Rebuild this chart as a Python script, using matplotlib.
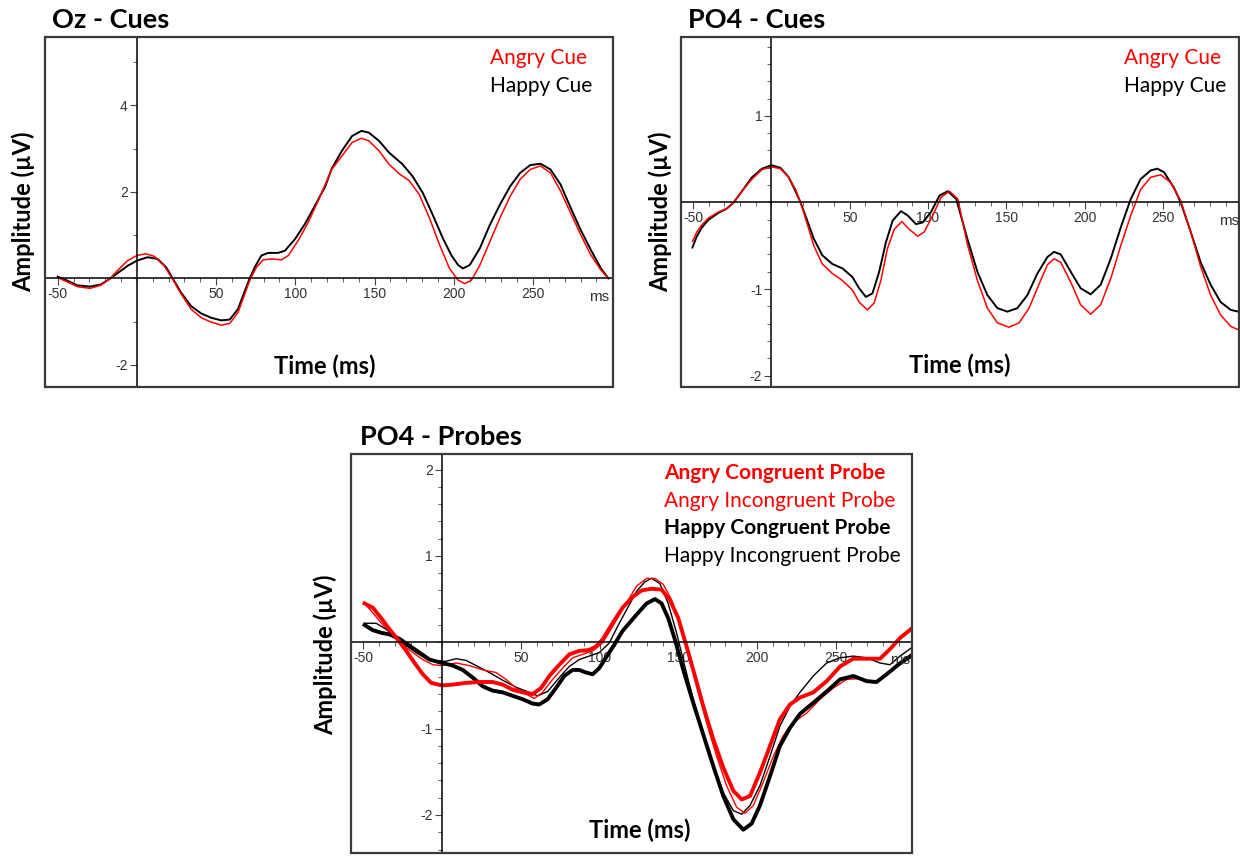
import numpy as np
import matplotlib
matplotlib.use('Agg')
import matplotlib.pyplot as plt
from matplotlib.patches import Rectangle
from matplotlib.ticker import MultipleLocator

plt.rcParams['axes.unicode_minus'] = False

# ---- Oz - Cues (time in ms, amplitude in uV) ----
oz_t_happy = [-50, -44, -37.6, -29.6, -22.8, -17.5, -12.3, -5.9, 0, 6.8, 13.1, 18.4, 22.6, 27.9,
              34.2, 40.6, 46.9, 53.3, 58.6, 63.8, 67.7, 71.2, 74.4, 78.6, 82.9, 89.2, 93.4, 99.8,
              106.1, 112.5, 118.8, 123, 129.4, 135.8, 141.7, 146.4, 152.8, 159.1, 167.6, 174,
              180.4, 186.7, 193.1, 198.4, 202.7, 205.8, 210.1, 216.5, 222.8, 229.2, 235.6, 241.9,
              248.3, 254.7, 261, 267.4, 273.8, 280.1, 286.5, 292.9, 297.6]
oz_happy = [0.04, -0.05, -0.16, -0.19, -0.14, -0.02, 0.12, 0.29, 0.41, 0.49, 0.45, 0.26, 0.0,
            -0.33, -0.64, -0.81, -0.91, -0.97, -0.95, -0.71, -0.33, 0.0, 0.26, 0.53, 0.59, 0.59,
            0.64, 0.91, 1.26, 1.69, 2.12, 2.54, 2.95, 3.29, 3.41, 3.37, 3.18, 2.91, 2.64, 2.36,
            1.98, 1.47, 0.93, 0.54, 0.31, 0.23, 0.31, 0.70, 1.24, 1.71, 2.13, 2.44, 2.62, 2.65,
            2.52, 2.17, 1.63, 1.12, 0.66, 0.23, 0.0]
oz_t_angry = [-50, -44, -37.6, -29.6, -22.8, -17.5, -12.3, -5.9, 0, 5.7, 11, 17.3, 22.6, 27.9,
              34.2, 40.6, 46.9, 53.3, 58.6, 63.8, 67.7, 71.7, 75.5, 79.7, 85, 91.3, 95.6, 101.9,
              108.2, 114.6, 123, 129.4, 135.8, 141.7, 146.4, 152.8, 159.1, 165.5, 171.9, 178.2,
              184.6, 191, 197.3, 202.7, 206.9, 211.2, 216.5, 222.8, 229.2, 235.6, 241.9, 248.3,
              254.7, 261, 267.4, 273.8, 280.1, 286.5, 292.9, 297.6]
oz_angry = [0.02, -0.08, -0.19, -0.23, -0.16, -0.02, 0.18, 0.41, 0.53, 0.57, 0.51, 0.29, -0.02,
            -0.36, -0.71, -0.91, -1.01, -1.08, -1.04, -0.79, -0.40, 0.0, 0.26, 0.43, 0.45, 0.43,
            0.53, 0.88, 1.30, 1.81, 2.52, 2.83, 3.14, 3.24, 3.18, 2.95, 2.64, 2.42, 2.26, 1.94,
            1.40, 0.78, 0.23, -0.04, -0.12, -0.04, 0.31, 0.85, 1.40, 1.90, 2.29, 2.52, 2.60,
            2.44, 2.02, 1.51, 1.01, 0.54, 0.19, 0.0]

# ---- PO4 - Cues ----
po_t_happy = [-50.4, -47.6, -44.4, -40.2, -33.8, -28.4, -24.1, -18.8, -12.4, -6, 0, 5.8, 11.1,
              15.4, 18.6, 22.9, 27.1, 32.5, 38.9, 45.3, 51.7, 56, 60.3, 64.5, 68.8, 73.1, 77.4,
              82.7, 87, 92.3, 96.6, 101.9, 107.3, 112.6, 118, 125.1, 131.5, 137.9, 144.3, 150.6,
              157, 163.4, 169.8, 176.2, 180.4, 184.7, 191.1, 197.4, 203.8, 210.2, 216.6, 223,
              229.4, 235.7, 242.1, 246.4, 250.6, 257, 261.3, 267.7, 274, 280.4, 286.8, 293.2, 298.1]
po_happy = [-0.52, -0.39, -0.29, -0.20, -0.12, -0.07, 0.0, 0.13, 0.29, 0.39, 0.43, 0.40, 0.29,
            0.13, 0.0, -0.21, -0.42, -0.61, -0.71, -0.76, -0.86, -0.99, -1.09, -1.05, -0.80,
            -0.46, -0.21, -0.10, -0.15, -0.25, -0.23, -0.11, 0.08, 0.13, 0.04, -0.42, -0.80,
            -1.07, -1.22, -1.26, -1.22, -1.07, -0.82, -0.63, -0.57, -0.60, -0.80, -0.99, -1.06,
            -0.95, -0.65, -0.29, 0.04, 0.27, 0.37, 0.39, 0.35, 0.17, 0.0, -0.34, -0.69, -0.95,
            -1.15, -1.24, -1.26]
po_t_angry = [-50.4, -47.6, -44.4, -40.2, -33.8, -28.4, -24.1, -18.8, -12.4, -6, 0.4, 5.8, 11.1,
              15.4, 18.6, 22.9, 27.1, 32.5, 38.9, 45.3, 51.7, 56, 61.3, 65.6, 69.9, 74.1, 78.4,
              83.3, 88, 93.4, 97.6, 103, 108.3, 113.7, 119, 125.1, 131.5, 137.9, 144.3, 151.7,
              158.1, 164.5, 170.9, 176.2, 180.4, 184.7, 191.1, 197.4, 203.8, 210.2, 216.6, 223,
              229.4, 235.7, 242.1, 248.5, 254.9, 261.3, 267.7, 274, 280.4, 286.8, 293.2, 298.1]
po_angry = [-0.45, -0.34, -0.26, -0.18, -0.11, -0.07, 0.0, 0.13, 0.27, 0.38, 0.41, 0.39, 0.29,
            0.15, 0.0, -0.25, -0.50, -0.71, -0.82, -0.90, -1.01, -1.15, -1.24, -1.16, -0.90,
            -0.53, -0.31, -0.22, -0.31, -0.39, -0.34, -0.15, 0.06, 0.13, 0.04, -0.48, -0.90,
            -1.22, -1.39, -1.44, -1.39, -1.22, -0.94, -0.72, -0.65, -0.69, -0.92, -1.18, -1.29,
            -1.18, -0.88, -0.50, -0.15, 0.15, 0.29, 0.32, 0.23, 0.02, -0.34, -0.74, -1.07,
            -1.30, -1.43, -1.47]

# ---- PO4 - Probes ----
ac_t = [-49.3, -44, -38.7, -33.4, -28.1, -22.8, -17.5, -12.3, -7, 0, 6.8, 15.2, 23.7, 32.1,
        38.5, 44.8, 51.2, 57.5, 62.8, 68.1, 74.4, 80.8, 87.1, 93.4, 97.7, 101.9, 108.2, 114.6,
        121.4, 126.7, 133.1, 139.4, 144.7, 150, 155.3, 160.6, 165.9, 172.2, 178.6, 185, 190.3,
        195.6, 201.9, 208.3, 214.6, 221, 227.3, 235.8, 244.3, 252.8, 261.2, 269.7, 278.2,
        284.5, 290.9, 297.7]
angry_congruent = [0.45, 0.40, 0.28, 0.15, 0.03, -0.10, -0.24, -0.37, -0.47, -0.50, -0.49,
                   -0.47, -0.46, -0.46, -0.49, -0.55, -0.58, -0.60, -0.53, -0.39, -0.26, -0.14,
                   -0.10, -0.09, -0.05, 0.03, 0.22, 0.40, 0.53, 0.60, 0.62, 0.61, 0.49, 0.28,
                   -0.05, -0.39, -0.74, -1.12, -1.45, -1.72, -1.82, -1.78, -1.51, -1.20, -0.89,
                   -0.72, -0.64, -0.58, -0.45, -0.28, -0.19, -0.19, -0.19, -0.08, 0.05, 0.15]
ai_t = [-49.3, -44, -37.6, -31.3, -24.9, -18.6, -12.3, -5.9, 0, 8.9, 17.3, 25.8, 34.2, 40.6,
        46.9, 53.3, 58.6, 63.8, 70.2, 76.5, 82.9, 89.2, 95.6, 101.9, 108.2, 114.6, 123.5, 129.9,
        135.2, 140.5, 145.8, 151.1, 156.4, 161.7, 168, 174.4, 180.7, 187.1, 192.4, 197.7, 204,
        210.4, 216.7, 223.1, 231.6, 240, 248.5, 257, 265.5, 273.9, 282.4, 289.8, 297.7]
angry_incongruent = [0.45, 0.34, 0.20, 0.09, -0.03, -0.12, -0.20, -0.26, -0.27, -0.24, -0.27,
                     -0.32, -0.35, -0.43, -0.53, -0.60, -0.65, -0.58, -0.43, -0.30, -0.18,
                     -0.14, -0.10, -0.01, 0.18, 0.38, 0.65, 0.74, 0.74, 0.67, 0.49, 0.22, -0.12,
                     -0.51, -0.93, -1.32, -1.66, -1.91, -1.98, -1.89, -1.62, -1.32, -1.08, -0.93,
                     -0.82, -0.66, -0.53, -0.43, -0.42, -0.47, -0.37, -0.24, -0.14]
hc_t = [-49.3, -44, -38.7, -33.4, -27.1, -20.7, -14.4, -8, 0, 6.8, 13.1, 19.5, 25.8, 32.1, 38.5,
        44.8, 51.2, 57.5, 61.7, 67, 72.3, 77.6, 82.9, 87.1, 91.3, 95.6, 99.8, 104, 109.3, 114.6,
        123.5, 129.9, 135.2, 139.4, 143.6, 147.9, 153.2, 159.5, 165.9, 172.2, 178.6, 185, 191.3,
        196.6, 201.9, 208.3, 214.6, 221, 227.3, 235.8, 244.3, 252.8, 261.2, 269.7, 276, 282.4,
        289.8, 297.7]
happy_congruent = [0.20, 0.14, 0.11, 0.09, 0.04, -0.04, -0.12, -0.20, -0.24, -0.27, -0.32,
                   -0.41, -0.51, -0.56, -0.58, -0.62, -0.66, -0.71, -0.72, -0.66, -0.53, -0.39,
                   -0.32, -0.32, -0.35, -0.37, -0.30, -0.18, -0.03, 0.13, 0.32, 0.45, 0.50,
                   0.45, 0.28, 0.03, -0.32, -0.70, -1.07, -1.43, -1.78, -2.05, -2.17, -2.10,
                   -1.89, -1.55, -1.20, -0.99, -0.83, -0.70, -0.57, -0.43, -0.39, -0.45, -0.46,
                   -0.37, -0.26, -0.16]
hi_t = [-49.3, -41.9, -35.5, -29.2, -22.8, -16.5, -10.1, -3.8, 2.5, 8.9, 15.2, 21.6, 30, 38.5,
        46.9, 55.4, 60.7, 67, 74.4, 80.8, 87.1, 93.4, 99.8, 106.1, 112.5, 118.8, 123.5, 128.8,
        133.1, 138.3, 143.6, 148.9, 154.2, 159.5, 165.9, 172.2, 178.6, 185, 190.3, 195.6, 201.9,
        208.3, 214.6, 221, 227.3, 235.8, 244.3, 252.8, 261.2, 269.7, 278.2, 284.5, 290.9, 297.7]
happy_incongruent = [0.22, 0.22, 0.15, 0.05, -0.04, -0.12, -0.19, -0.22, -0.22, -0.19, -0.21,
                     -0.27, -0.35, -0.44, -0.52, -0.58, -0.62, -0.57, -0.41, -0.28, -0.20,
                     -0.16, -0.12, -0.01, 0.22, 0.43, 0.59, 0.70, 0.74, 0.68, 0.45, 0.11, -0.28,
                     -0.66, -1.05, -1.43, -1.74, -1.95, -1.99, -1.89, -1.66, -1.32, -0.97, -0.74,
                     -0.58, -0.39, -0.24, -0.18, -0.16, -0.18, -0.24, -0.26, -0.16, -0.07]

x_ticks = [-50, 50, 100, 150, 200, 250]

RED = '#ff0000'
FONT = ['Lato', 'DejaVu Sans']
W, H = 1240, 856

fig = plt.figure(figsize=(W / 100, H / 100), dpi=100)


def px(x, y):
    return x / W, 1 - y / H


def panel(left, top, right, bottom, xlim, ylim, yticks, yminor):
    x0, y0 = px(left, bottom)
    x1, y1 = px(right, top)
    ax = fig.add_axes([x0, y0, x1 - x0, y1 - y0])
    ax.set_xlim(*xlim)
    ax.set_ylim(*ylim)
    ax.spines['top'].set_visible(False)
    ax.spines['right'].set_visible(False)
    ax.spines['left'].set_position(('data', 0))
    ax.spines['bottom'].set_position(('data', 0))
    ax.spines['left'].set_linewidth(1.1)
    ax.spines['bottom'].set_linewidth(1.1)
    ax.set_xticks(x_ticks)
    ax.xaxis.set_minor_locator(MultipleLocator(10))
    ax.set_yticks(yticks)
    ax.yaxis.set_minor_locator(MultipleLocator(yminor))
    ax.tick_params(which='major', length=5, width=0.8, color='#444', labelcolor='#333',
                   labelsize=10, pad=1.5)
    ax.tick_params(which='minor', length=3, width=0.6, color='#444')
    for lab in ax.get_xticklabels() + ax.get_yticklabels():
        lab.set_family(['Liberation Sans', 'DejaVu Sans'])
    ax.add_patch(Rectangle((0, 0), 1, 1, transform=ax.transAxes, fill=False, lw=1.6,
                           ec='#3a3a3a', clip_on=False, zorder=5))
    ax.patch.set_alpha(0)
    return ax


def label(x, y, s, **kw):
    fx, fy = px(x, y)
    kw.setdefault('family', FONT)
    fig.text(fx, fy, s, **kw)


# Oz - Cues
ax1 = panel(45, 37, 613, 387, (-58, 300.5), (-2.51, 5.58), [-2, 2, 4], 1)
ax1.plot(oz_t_happy, oz_happy, color='black', lw=1.4, solid_joinstyle='round')
ax1.plot(oz_t_angry, oz_angry, color=RED, lw=1.1, solid_joinstyle='round')

# PO4 - Cues
ax2 = panel(681, 37, 1239, 387, (-57.7, 298.5), (-2.13, 1.91), [-2, -1, 1], 0.2)
ax2.plot(po_t_happy, po_happy, color='black', lw=1.4, solid_joinstyle='round')
ax2.plot(po_t_angry, po_angry, color=RED, lw=1.1, solid_joinstyle='round')

# PO4 - Probes
ax3 = panel(351, 454, 912, 853, (-57.9, 298.5), (-2.44, 2.18), [-2, -1, 1, 2], 0.2)
ax3.plot(hi_t, happy_incongruent, color='black', lw=1.0, solid_joinstyle='round')
ax3.plot(ai_t, angry_incongruent, color=RED, lw=1.0, solid_joinstyle='round')
ax3.plot(hc_t, happy_congruent, color='black', lw=2.8, solid_joinstyle='round')
ax3.plot(ac_t, angry_congruent, color=RED, lw=2.8, solid_joinstyle='round')

# "ms" labels
for x, y in [(599, 297), (1229, 221), (900, 660)]:
    label(x, y, 'ms', fontsize=11, color='#333', family=['Liberation Sans'],
          ha='center', va='center')

# titles
label(52, 20, 'Oz - Cues', fontsize=19.5, fontweight='bold', va='center')
label(688, 20, 'PO4 - Cues', fontsize=19.5, fontweight='bold', va='center')
label(360, 437, 'PO4 - Probes', fontsize=19.5, fontweight='bold', va='center')

# axis labels
for x, y in [(23, 212), (660, 212), (325, 655)]:
    label(x, y, 'Amplitude (µV)', fontsize=17, fontweight='bold', rotation=90,
          ha='center', va='center')
for x, y in [(325, 366), (960, 365), (640, 830)]:
    label(x, y, 'Time (ms)', fontsize=17, fontweight='bold', ha='center', va='center')

# legends
label(490, 58, 'Angry Cue', fontsize=15, color=RED, va='center')
label(490, 86, 'Happy Cue', fontsize=15, color='black', va='center')
label(1124, 58, 'Angry Cue', fontsize=15, color=RED, va='center')
label(1124, 86, 'Happy Cue', fontsize=15, color='black', va='center')
label(664, 473, 'Angry Congruent Probe', fontsize=15, color=RED, fontweight='bold', va='center')
label(664, 501, 'Angry Incongruent Probe', fontsize=15, color=RED, va='center')
label(664, 528, 'Happy Congruent Probe', fontsize=15, color='black', fontweight='bold', va='center')
label(664, 556, 'Happy Incongruent Probe', fontsize=15, color='black', va='center')

fig.savefig('out.png', dpi=100)
